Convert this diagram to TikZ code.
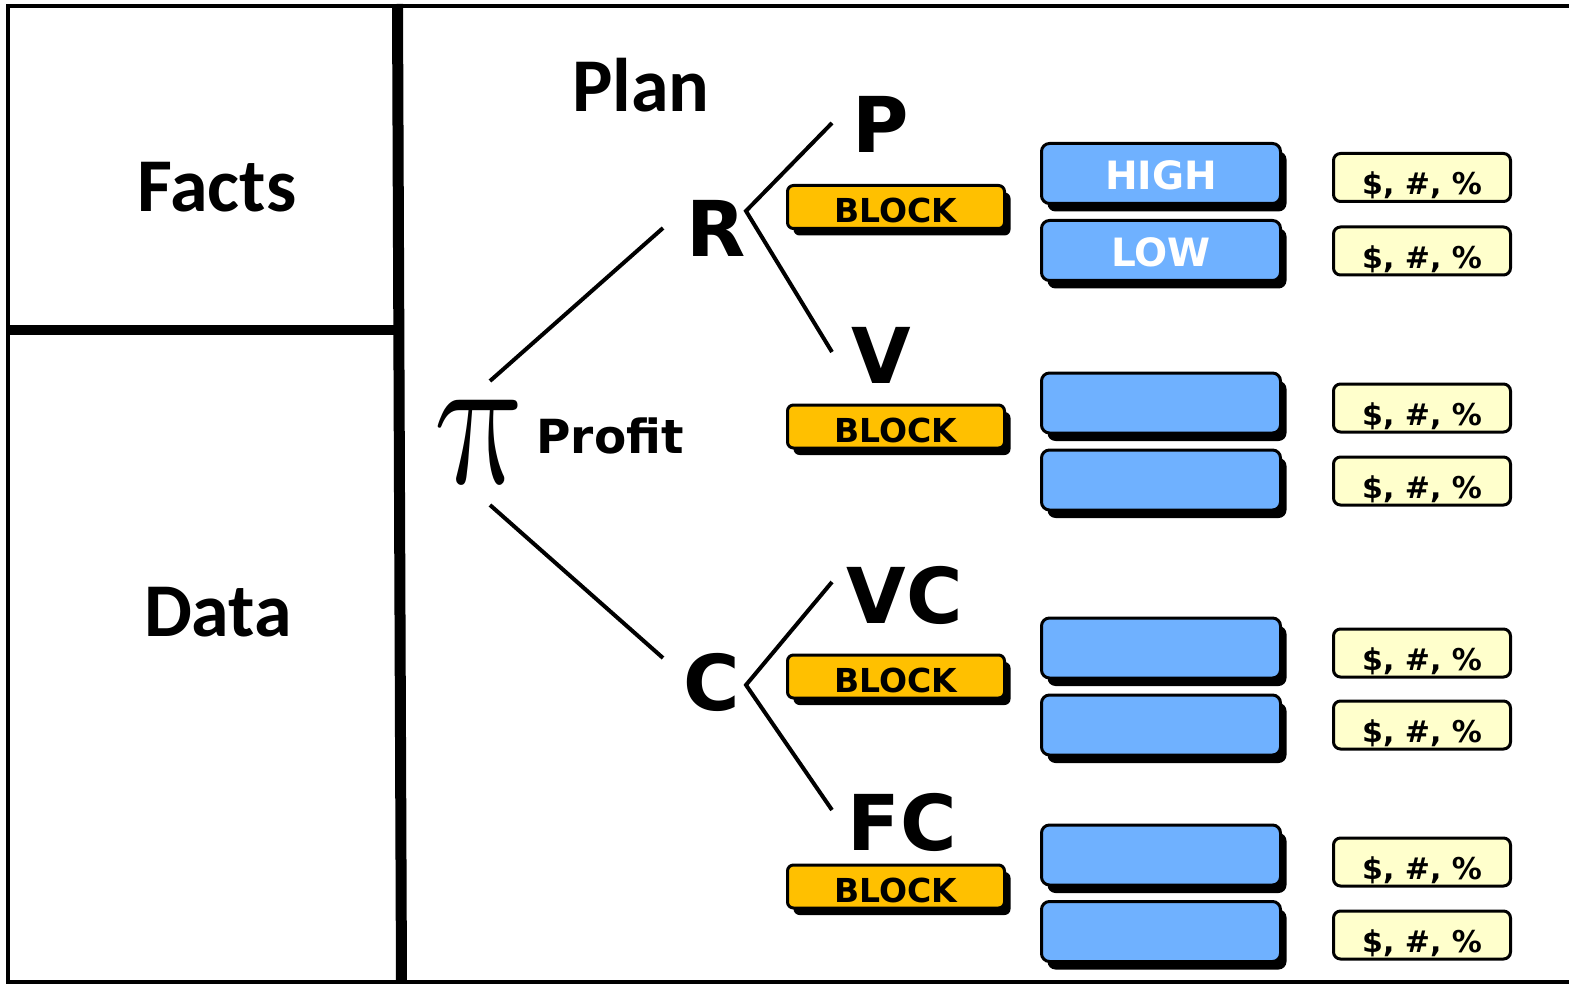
\RequirePackage{fix-cm}
\documentclass[tikz,border=0pt]{standalone}
\usepackage{fontspec}
\usetikzlibrary{shadows}
\newfontfamily\vfont{DejaVu Sans}
\newfontfamily\cfont{Carlito}
\definecolor{blockorange}{HTML}{FFC000}
\definecolor{boxblue}{HTML}{6FB1FF}
\definecolor{boxyellow}{HTML}{FFFFCC}
\begin{document}
\begin{tikzpicture}[x=1pt,y=-1pt,
  conn/.style={line width=4pt},
  bigletter/.style={anchor=base, inner sep=0pt, font=\vfont\bfseries\fontsize{77}{77}\selectfont},
  title/.style={anchor=base, inner sep=0pt, font=\cfont\bfseries\fontsize{76}{76}\selectfont},
  orangebox/.style={draw=black, line width=3pt, fill=blockorange, rounded corners=6pt,
    minimum width=217pt, minimum height=43pt, inner sep=0pt,
    font=\vfont\bfseries\fontsize{33}{33}\selectfont, text height=31pt, text depth=0pt,
    general shadow={fill=black, rounded corners=6pt, shadow xshift=6pt, shadow yshift=-7pt}},
  bluebox/.style={draw=black, line width=3pt, fill=boxblue, rounded corners=8pt,
    minimum width=239pt, minimum height=60pt, inner sep=0pt, text=white,
    font=\vfont\bfseries\fontsize{39}{39}\selectfont, text height=33pt, text depth=0pt,
    general shadow={fill=black, rounded corners=8pt, shadow xshift=6pt, shadow yshift=-8pt}},
  yellowbox/.style={draw=black, line width=3pt, fill=boxyellow, rounded corners=7pt,
    minimum width=177pt, minimum height=48pt, inner sep=0pt,
    font=\vfont\bfseries\fontsize{30}{30}\selectfont, text height=35pt, text depth=0pt}]
\useasboundingbox (0,0) rectangle (1569,984);
% frame
\draw[line width=4pt] (1569,6) -- (7.5,6) -- (7.5,981.5) -- (1569,981.5);
\draw[line width=11pt] (397.5,4) -- (401.5,983);
\draw[line width=10pt] (7,330) -- (399,330);
% titles
\node[title] (facts) at (217,212) {Facts};
\node[title] (data) at (218,636) {Data};
\node[title] (plan) at (641,112) {Plan};
% pi / profit
\begin{scope}[shift={(482,442)}]
\node[inner sep=0pt, xslant=-0.13, transform shape] (pi) at (0,0)
  {\scalebox{1.12}[1.38]{\fontsize{140}{140}\selectfont$\pi$}};
\end{scope}
\node[anchor=base, inner sep=0pt, font=\vfont\bfseries\fontsize{47}{47}\selectfont] (profit) at (610,453) {Profit};
% letters
\node[bigletter] (R) at (716,257) {R};
\node[bigletter] (C) at (712,710) {C};
\node[bigletter] (P) at (881,153) {P};
\node[bigletter] (V) at (881,383) {V};
\node[bigletter] (VC) at (905,623) {VC};
\node[bigletter] (FC) at (902,850) {FC};
% connector ends
\coordinate (piUp) at (490,381);
\coordinate (rEnd) at (663,228);
\coordinate (piDn) at (490,505);
\coordinate (cEnd) at (663,658);
\coordinate (rV) at (746,211);
\coordinate (pEnd) at (832,123);
\coordinate (vEnd) at (832,352);
\coordinate (cV) at (746,685);
\coordinate (vcEnd) at (832,582);
\coordinate (fcEnd) at (832,810);
\draw[conn] (piUp) -- (rEnd);
\draw[conn] (piDn) -- (cEnd);
\draw[conn] (pEnd) -- (rV) -- (vEnd);
\draw[conn] (vcEnd) -- (cV) -- (fcEnd);
% block boxes
\node[orangebox] (b1) at (896,207) {BLOCK};
\node[orangebox] (b2) at (896,426.5) {BLOCK};
\node[orangebox] (b3) at (896,676.5) {BLOCK};
\node[orangebox] (b4) at (896,886.5) {BLOCK};
% blue boxes
\node[bluebox] (h1) at (1161,173.5) {HIGH};
\node[bluebox] (h2) at (1161,250.5) {LOW};
\node[bluebox] (h3) at (1161,403) {};
\node[bluebox] (h4) at (1161,480) {};
\node[bluebox] (h5) at (1161,648) {};
\node[bluebox] (h6) at (1161,725) {};
\node[bluebox] (h7) at (1161,855) {};
\node[bluebox] (h8) at (1161,931.5) {};
% yellow boxes
\node[yellowbox] (y1) at (1422,177.5) {\$, \#, \%};
\node[yellowbox] (y2) at (1422,251) {\$, \#, \%};
\node[yellowbox] (y3) at (1422,408) {\$, \#, \%};
\node[yellowbox] (y4) at (1422,481) {\$, \#, \%};
\node[yellowbox] (y5) at (1422,653) {\$, \#, \%};
\node[yellowbox] (y6) at (1422,725) {\$, \#, \%};
\node[yellowbox] (y7) at (1422,862) {\$, \#, \%};
\node[yellowbox] (y8) at (1422,935) {\$, \#, \%};
\end{tikzpicture}
\end{document}
